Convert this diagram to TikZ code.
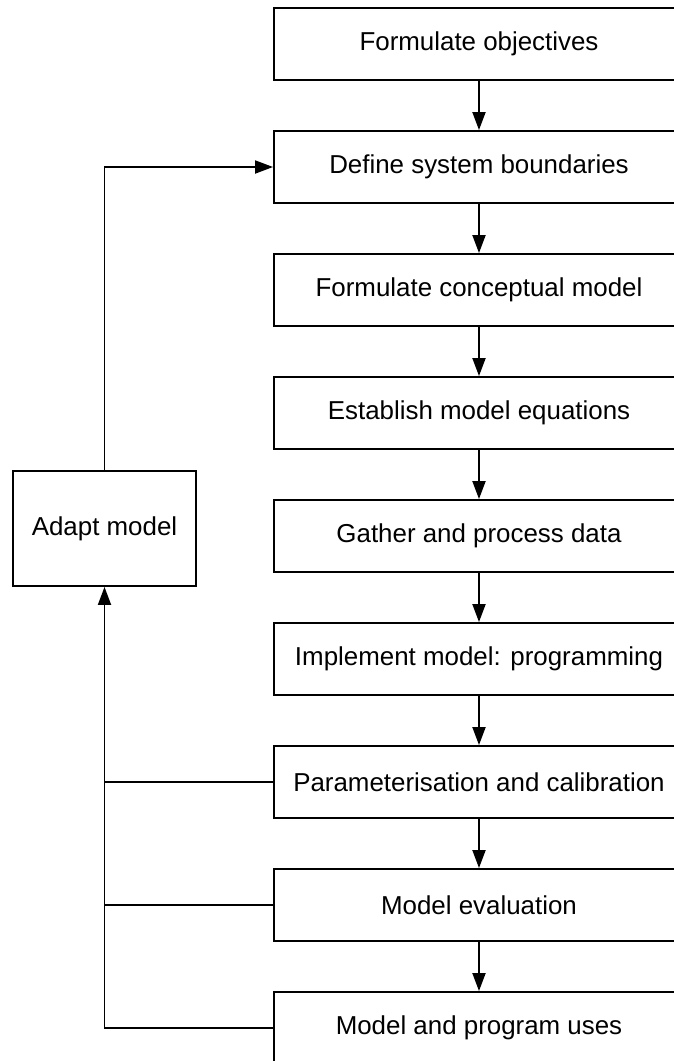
\documentclass[tikz,border=0pt]{standalone}
\usepackage{fontspec}
\setmainfont{Liberation Sans}
\usetikzlibrary{arrows.meta}
\begin{document}
\begin{tikzpicture}[x=1pt,y=-1pt,
  stepbox/.style={draw, line width=1.9pt, rectangle, minimum width=410pt, minimum height=72pt, inner sep=0pt, font=\fontsize{25.9}{30}\selectfont},
  adaptbox/.style={draw, line width=1.9pt, rectangle, minimum width=183pt, minimum height=115pt, inner sep=0pt, font=\fontsize{25.9}{30}\selectfont},
  conn/.style={line width=1.9pt},
  arr/.style={conn, -{Triangle[width=13pt,length=18pt]}}]
\useasboundingbox (0,0) rectangle (674,1061);
\clip (0,0) rectangle (674,1061);
\node[stepbox] (b1) at (479,44) {Formulate objectives};
\node[stepbox] (b2) at (479,167) {Define system boundaries};
\node[stepbox] (b3) at (479,290) {Formulate conceptual model};
\node[stepbox] (b4) at (479,413) {Establish model equations};
\node[stepbox] (b5) at (479,536) {Gather and process data};
\node[stepbox] (b6) at (479,659) {Implement model: programming};
\node[stepbox] (b7) at (479,782) {Parameterisation and calibration};
\node[stepbox] (b8) at (479,905) {Model evaluation};
\node[stepbox] (b9) at (479,1028) {Model and program uses};
\node[adaptbox] (ad) at (104.5,528.5) {Adapt model};
\foreach \a/\b in {b1/b2,b2/b3,b3/b4,b4/b5,b5/b6,b6/b7,b7/b8,b8/b9}
  \draw[arr] (\a) -- (\b);
\draw[arr] (b9.west) -| (ad.south);
\draw[conn] (b8.west) -- (b8.west -| ad.south);
\draw[conn] (b7.west) -- (b7.west -| ad.south);
\draw[arr] (ad.north) |- (b2.west);
\end{tikzpicture}
\end{document}
